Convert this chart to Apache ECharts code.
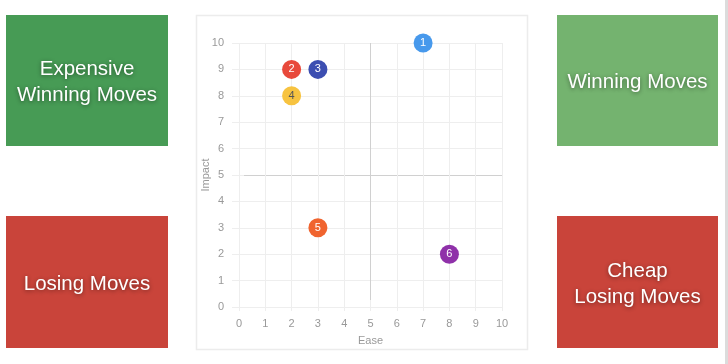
<!DOCTYPE html>
<html>
<head>
<meta charset="utf-8">
<script src="https://cdn.jsdelivr.net/npm/echarts@6/dist/echarts.min.js"></script>
<style>
html,body{margin:0;padding:0;background:#fff;}
#chart{width:728px;height:364px;}
</style>
</head>
<body>
<div id="chart"></div>
<script>
// ---- data ----
const pointIds = ['1', '2', '3', '4', '5', '6'];
const easeValues = [7, 2, 3, 2, 3, 8];
const impactValues = [10, 9, 9, 8, 3, 2];
const xTicks = [0, 1, 2, 3, 4, 5, 6, 7, 8, 9, 10];
const yTicks = [0, 1, 2, 3, 4, 5, 6, 7, 8, 9, 10];
const quadrantLabels = ['Expensive\nWinning Moves', 'Winning Moves', 'Losing Moves', 'Cheap\nLosing Moves'];
const midX = 5;
const midY = 5;

// ---- styles ----
const pointColors = ['#4799ec', '#e8493b', '#3c4eb1', '#f7c340', '#f0642f', '#8f31a9'];
const pointLabelColors = ['#fff', '#fff', '#fff', '#555', '#fff', '#fff'];
const quadrantColors = ['#479b55', '#74b36f', '#c9443a', '#c9443a'];
const quadrantRects = [
  {x: 6, y: 15, w: 162, h: 131},
  {x: 557, y: 15, w: 161, h: 131},
  {x: 6, y: 216, w: 162, h: 132},
  {x: 557, y: 216, w: 161, h: 132}
];

const chart = echarts.init(document.getElementById('chart'), null, {renderer: 'canvas'});

const gridColors = xTicks.map(v => v === midX ? '#d0d0d0' : '#eeeeee');
const gridColorsY = yTicks.map(v => v === midY ? '#d0d0d0' : '#eeeeee');

const graphics = [];
// chart panel border
graphics.push({
  type: 'rect', z: -10,
  shape: {x: 196.5, y: 15.5, width: 331, height: 334},
  style: {fill: '#fff', stroke: '#ececec', lineWidth: 1.5}
});
// right edge line
graphics.push({
  type: 'rect', z: -10,
  shape: {x: 725, y: 0, width: 3, height: 364},
  style: {fill: '#dcdcdc'}
});
quadrantRects.forEach((r, i) => {
  graphics.push({
    type: 'group',
    children: [
      {type: 'rect', shape: {x: r.x, y: r.y, width: r.w, height: r.h},
        style: {fill: quadrantColors[i]}},
      {type: 'text', x: r.x + r.w / 2, y: r.y + r.h / 2 + 2,
        style: {text: quadrantLabels[i], fill: '#fff', font: '20.5px "Liberation Sans", Arial, sans-serif',
          align: 'center', verticalAlign: 'middle', lineHeight: 26,
          textShadowColor: 'rgba(0,0,0,0.45)', textShadowBlur: 4, textShadowOffsetX: 0, textShadowOffsetY: 1}}
    ]
  });
});

const option = {
  animation: false,
  textStyle: {fontFamily: '"Liberation Sans", Arial, sans-serif'},
  graphic: graphics,
  grid: {left: 239, right: 226, top: 43, bottom: 57, containLabel: false},
  xAxis: [{
    type: 'value', min: xTicks[0], max: xTicks[xTicks.length - 1], interval: 1,
    name: 'Ease', nameLocation: 'middle', nameGap: 28, nameMoveOverlap: false,
    nameTextStyle: {color: '#999', fontSize: 11},
    axisLine: {show: false},
    axisTick: {show: true, length: 4, lineStyle: {color: '#eeeeee'}},
    axisLabel: {color: '#999', fontSize: 11, margin: 11},
    splitLine: {show: true, lineStyle: {color: gridColors, width: 1}}
  }, {
    type: 'value', position: 'top', min: xTicks[0], max: xTicks[xTicks.length - 1], interval: 1,
    axisLine: {show: false},
    axisTick: {show: true, length: 7, lineStyle: {color: gridColors}},
    axisLabel: {show: false},
    splitLine: {show: false}
  }],
  yAxis: [{
    type: 'value', min: yTicks[0], max: yTicks[yTicks.length - 1], interval: 1,
    name: 'Impact', nameLocation: 'middle', nameGap: 28, nameRotate: 90, nameMoveOverlap: false,
    nameTextStyle: {color: '#999', fontSize: 11},
    axisLine: {show: false},
    axisTick: {show: true, length: 7, lineStyle: {color: gridColorsY}},
    axisLabel: {color: '#999', fontSize: 11, margin: 15},
    splitLine: {show: true, lineStyle: {color: gridColorsY, width: 1}}
  }, {
    type: 'value', position: 'right', min: yTicks[0], max: yTicks[yTicks.length - 1], interval: 1,
    axisLine: {show: false},
    axisTick: {show: true, length: 5, lineStyle: {color: gridColorsY}},
    axisLabel: {show: false},
    splitLine: {show: false}
  }],
  series: [{
    type: 'scatter',
    xAxisIndex: 0, yAxisIndex: 0,
    symbolSize: 19,
    data: pointIds.map((id, i) => ({
      value: [easeValues[i], impactValues[i]],
      name: id,
      itemStyle: {color: pointColors[i], opacity: 1},
      label: {color: pointLabelColors[i]}
    })),
    label: {show: true, position: 'inside', formatter: p => p.name, fontSize: 11},
    z: 5
  }]
};
chart.setOption(option);
</script>
</body>
</html>
